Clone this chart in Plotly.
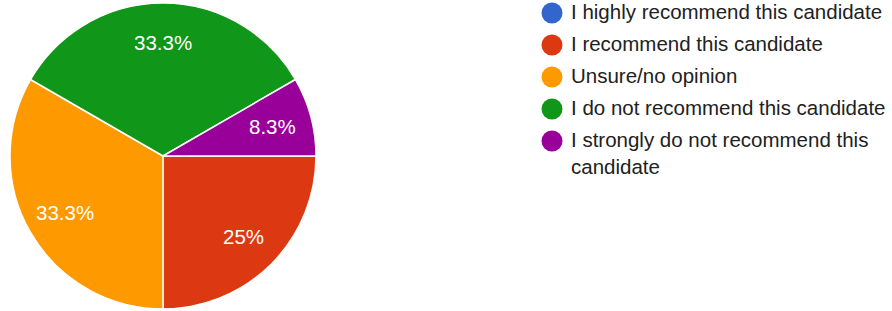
import math
import plotly.graph_objects as go

labels = [
    "I highly recommend this candidate",
    "I recommend this candidate",
    "Unsure/no opinion",
    "I do not recommend this candidate",
    "I strongly do not recommend this<br>candidate",
]
values = [0, 3, 4, 4, 1]
colors = ["#3366cc", "#dc3912", "#ff9900", "#109618", "#990099"]

total = sum(values)

def fmt(v):
    p = round(100 * v / total, 1)
    s = f"{p:.1f}"
    if s.endswith(".0"):
        s = s[:-2]
    return s + "%"

W, H = 892, 311
FONT = "Liberation Sans, Arial, sans-serif"
FS = 20.5

# pie geometry (pixels)
px0, px1 = 10, 316
py0, py1 = 2, 310
cx, cy = (px0 + px1) / 2, (py0 + py1) / 2
R = min(px1 - px0, py1 - py0) / 2
LABEL_FRAC = 0.74

fig = go.Figure()
fig.add_trace(go.Pie(
    labels=labels,
    values=values,
    marker=dict(colors=colors, line=dict(color="white", width=1.5)),
    sort=False,
    direction="clockwise",
    rotation=90,
    textinfo="none",
    showlegend=False,
    domain=dict(x=[px0 / W, px1 / W], y=[1 - py1 / H, 1 - py0 / H]),
    hoverinfo="label+percent",
))

# percent labels inside slices, placed along each slice's mid-angle
annotations = []
cum = 0
for v in values:
    if v > 0:
        mid = (cum + v / 2) / total
        ang = -2 * math.pi * mid  # clockwise from 3 o'clock
        lx = cx + LABEL_FRAC * R * math.cos(ang)
        ly = cy - LABEL_FRAC * R * math.sin(ang)
        annotations.append(dict(
            x=lx / W, y=1 - ly / H, xref="paper", yref="paper",
            text=fmt(v), showarrow=False,
            font=dict(family=FONT, size=FS, color="white"),
            xanchor="center", yanchor="middle",
        ))
    cum += v

# legend drawn as markers + text on a hidden axis
idx = list(range(len(labels)))
fig.add_trace(go.Scatter(
    x=[0] * len(labels), y=idx, mode="markers",
    marker=dict(color=colors, size=21, symbol="circle", line=dict(width=0)),
    showlegend=False, hoverinfo="skip",
))
for i, lab in zip(idx, labels):
    annotations.append(dict(
        x=0, y=i, xref="x", yref="y", text=lab, showarrow=False,
        xanchor="left", yanchor="top", xshift=17, yshift=15, align="left",
        font=dict(family=FONT, size=FS, color="#212121"),
    ))

fig.update_layout(
    width=W, height=H,
    margin=dict(l=0, r=0, t=0, b=0),
    paper_bgcolor="white", plot_bgcolor="rgba(0,0,0,0)",
    xaxis=dict(visible=False, domain=[530 / W, 1], range=[-22, 340], fixedrange=True),
    yaxis=dict(visible=False, domain=[0, 1], range=[(H - 13) / 32, -13 / 32], fixedrange=True),
    annotations=annotations,
    showlegend=False,
)

fig.write_html(
    "out.html",
    config={"displayModeBar": False},
    post_script="document.body.style.margin='0';",
)
